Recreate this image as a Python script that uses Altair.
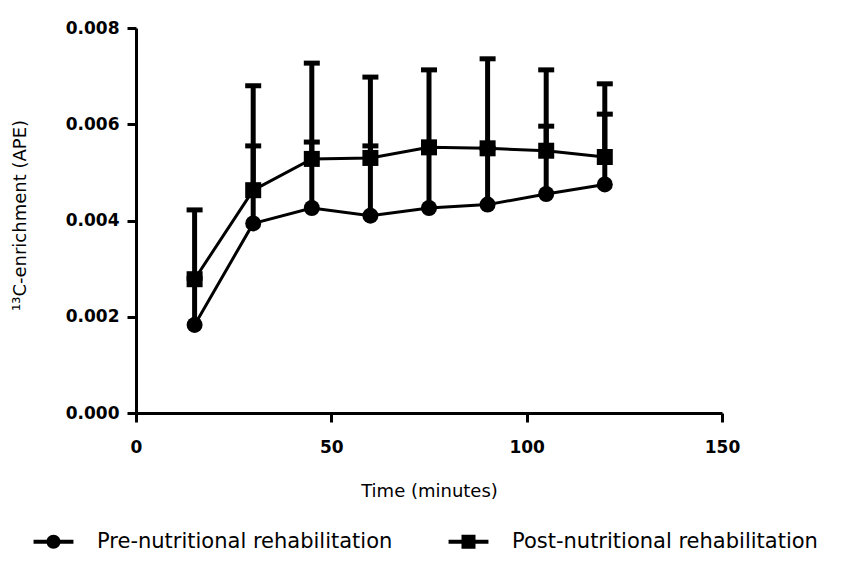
import altair as alt
import pandas as pd

time = [15, 30, 45, 60, 75, 90, 105, 120]
pre_mean = [0.00183, 0.00394, 0.00426, 0.00410, 0.00426, 0.00433, 0.00455, 0.00475]
pre_upper = [0.00280, 0.00555, 0.00563, 0.00555, 0.00550, 0.00550, 0.00596, 0.00621]
post_mean = [0.00278, 0.00463, 0.00528, 0.00530, 0.00552, 0.00550, 0.00545, 0.00532]
post_upper = [0.00422, 0.00680, 0.00727, 0.00698, 0.00713, 0.00736, 0.00713, 0.00684]

series_names = ["Pre-nutritional rehabilitation", "Post-nutritional rehabilitation"]
x_ticks = [0, 50, 100, 150]
y_ticks = [0.0, 0.002, 0.004, 0.006, 0.008]

rows = []
for i, t in enumerate(time):
    rows.append({"time": t, "series": series_names[0], "mean": pre_mean[i], "upper": pre_upper[i]})
for i, t in enumerate(time):
    rows.append({"time": t, "series": series_names[1], "mean": post_mean[i], "upper": post_upper[i]})
df = pd.DataFrame(rows)

x_enc = alt.X("time:Q", scale=alt.Scale(domain=[0, 150], nice=False),
              axis=alt.Axis(values=x_ticks, title="Time (minutes)", labelPadding=17,
                            titleX=293, titleY=78, titleBaseline="middle", titleAlign="center"))
y_enc = alt.Y("mean:Q", scale=alt.Scale(domain=[0, 0.008], nice=False),
              axis=alt.Axis(values=y_ticks, format=".3f", title="¹³C-enrichment (APE)", labelPadding=8,
                            titleX=-116, titleY=187, titleAngle=270, titleBaseline="middle",
                            titleAlign="center"))

base = alt.Chart(df)

lines = base.mark_line(color="black", strokeWidth=3).encode(x=x_enc, y=y_enc, detail="series:N")
bars = base.mark_rule(color="black", strokeWidth=5, opacity=1).encode(x="time:Q", y="mean:Q", y2="upper:Q")
caps = base.mark_tick(color="black", orient="horizontal", size=16, thickness=5, opacity=1).encode(
    x="time:Q", y="upper:Q")
pre_pts = base.transform_filter(alt.datum.series == series_names[0]).mark_point(
    shape="circle", filled=True, color="black", size=256, opacity=1).encode(x="time:Q", y="mean:Q")
post_pts = base.transform_filter(alt.datum.series == series_names[1]).mark_point(
    shape="square", filled=True, color="black", size=256, opacity=1).encode(x="time:Q", y="mean:Q")

circ_path = ("M-2.85,-0.3L-0.8,-0.3L-0.8,0.3L-2.85,0.3Z"
             "M0.8,-0.3L2.85,-0.3L2.85,0.3L0.8,0.3Z"
             "M-1,0A1,1,0,1,1,1,0A1,1,0,1,1,-1,0Z")
sq_path = ("M-2.85,-0.3L-1,-0.3L-1,0.3L-2.85,0.3Z"
           "M1,-0.3L2.85,-0.3L2.85,0.3L1,0.3Z"
           "M-1,-1L1,-1L1,1L-1,1Z")

legend_layer = base.mark_point(filled=True, opacity=0, color="black", size=196).encode(
    x="time:Q", y="mean:Q",
    shape=alt.Shape("series:N",
                    scale=alt.Scale(domain=series_names, range=[circ_path, sq_path]),
                    legend=alt.Legend(title=None, orient="none", direction="horizontal",
                                      legendX=-93, legendY=503, symbolSize=196,
                                      symbolFillColor="black", symbolStrokeColor="black",
                                      symbolStrokeWidth=0, symbolOpacity=1,
                                      labelOffset=33, columnPadding=55, padding=0,
                                      labelFont="DejaVu Sans", labelFontSize=21,
                                      labelColor="black", labelLimit=500)))

chart = alt.layer(lines, bars, caps, pre_pts, post_pts, legend_layer).properties(
    width=586, height=385,
    autosize=alt.AutoSizeParams(type="none"),
    padding={"left": 128, "top": 20, "right": 100, "bottom": 140},
).configure_view(stroke=None).configure_axis(
    grid=False, domainColor="black", domainWidth=3, tickColor="black", tickWidth=3, tickSize=9,
    labelFont="DejaVu Sans", labelFontWeight="bold", labelFontSize=17, labelColor="black",
    titleFont="DejaVu Sans", titleFontWeight="normal", titleFontSize=18, titleColor="black",
    labelFlush=False,
)

chart.save("out.html", embed_options={"renderer": "svg", "actions": False})
